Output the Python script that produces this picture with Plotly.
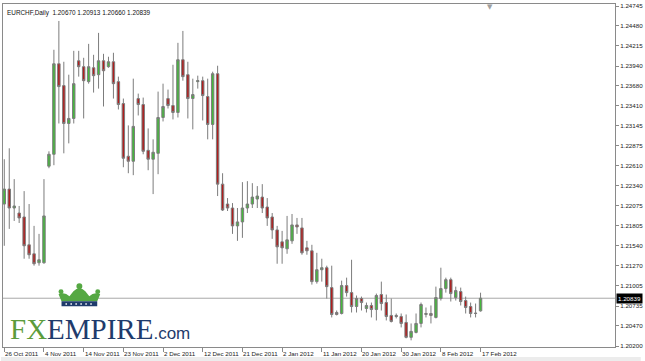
import pandas as pd
import plotly.graph_objects as go

# ---- data -------------------------------------------------------------
# bar dates (MT4 daily bars incl. Sunday bars, no Saturdays, no 25 Dec / 1 Jan)
all_days = pd.date_range("2011-10-26", "2012-02-17", freq="D")
dates = [d.strftime("%Y-%m-%d") for d in all_days
         if d.dayofweek != 5 and d.strftime("%m-%d") not in ("12-25", "01-01")]

opens = [1.22098, 1.22298, 1.22045, 1.21978, 1.21925, 1.21553, 1.21433, 1.21313, 1.21313, 1.22604,
         1.22763, 1.23973, 1.23681, 1.23175, 1.23242, 1.24013, 1.23934, 1.23734, 1.23920, 1.23827,
         1.24013, 1.23934, 1.24000, 1.23734, 1.23441, 1.22737, 1.22670, 1.23508, 1.23428, 1.22816,
         1.22697, 1.22776, 1.23255, 1.23508, 1.23415, 1.23322, 1.24027, 1.23827, 1.23508, 1.23734,
         1.23747, 1.23535, 1.23162, 1.23840, 1.22364, 1.22098, 1.22045, 1.21806, 1.21859, 1.22045,
         1.22098, 1.22165, 1.22191, 1.22058, 1.21925, 1.21752, 1.21593, 1.21500, 1.21606, 1.21819,
         1.21779, 1.21513, 1.21473, 1.21061, 1.21220, 1.21247, 1.20981, 1.20648, 1.20635, 1.21008,
         1.20914, 1.20728, 1.20835, 1.20702, 1.20742, 1.20688, 1.20888, 1.20781, 1.20609, 1.20609,
         1.20595, 1.20515, 1.20316, 1.20382, 1.20502, 1.20622, 1.20635, 1.20582, 1.20835, 1.20968,
         1.21087, 1.20848, 1.20928, 1.20808, 1.20728, 1.20640, 1.20670]
highs = [1.22697, 1.22843, 1.22431, 1.22072, 1.22271, 1.22098, 1.21806, 1.21699, 1.22431, 1.22803,
         1.24160, 1.24545, 1.24000, 1.23827, 1.24146, 1.24146, 1.24053, 1.24239, 1.24093, 1.24386,
         1.24106, 1.24067, 1.24120, 1.23801, 1.23508, 1.23149, 1.23774, 1.23574, 1.23521, 1.23109,
         1.22963, 1.23601, 1.23707, 1.23628, 1.23960, 1.24253, 1.24412, 1.24000, 1.23774, 1.23814,
         1.23801, 1.23774, 1.23867, 1.23947, 1.22510, 1.22178, 1.22111, 1.22045, 1.22391, 1.22404,
         1.22377, 1.22338, 1.22364, 1.22178, 1.21978, 1.21806, 1.21739, 1.21939, 1.21965, 1.21912,
         1.21912, 1.21606, 1.21553, 1.21446, 1.21367, 1.21274, 1.21274, 1.20675, 1.21074, 1.21114,
         1.21353, 1.20875, 1.20861, 1.20781, 1.20781, 1.20901, 1.21061, 1.20888, 1.20835, 1.20635,
         1.20635, 1.20622, 1.20502, 1.20635, 1.20781, 1.20715, 1.20742, 1.20994, 1.21247, 1.21114,
         1.21114, 1.20994, 1.20981, 1.20861, 1.20781, 1.20768, 1.20913]
lows = [1.21540, 1.21766, 1.21872, 1.21845, 1.21367, 1.21367, 1.21274, 1.21274, 1.21300, 1.22577,
        1.22617, 1.23175, 1.22776, 1.22909, 1.23175, 1.23801, 1.23242, 1.23707, 1.23588, 1.23641,
        1.23402, 1.23920, 1.23508, 1.23362, 1.22590, 1.22510, 1.22484, 1.23282, 1.22763, 1.22550,
        1.22231, 1.22497, 1.23202, 1.23375, 1.23229, 1.23255, 1.23747, 1.23242, 1.23096, 1.23641,
        1.23215, 1.22963, 1.22963, 1.22205, 1.22005, 1.22005, 1.21699, 1.21606, 1.21646, 1.21978,
        1.22045, 1.22045, 1.21978, 1.21806, 1.21633, 1.21300, 1.21300, 1.21433, 1.21566, 1.21699,
        1.21420, 1.21420, 1.21021, 1.21034, 1.21061, 1.20835, 1.20582, 1.20609, 1.20622, 1.20861,
        1.20648, 1.20648, 1.20675, 1.20648, 1.20582, 1.20542, 1.20675, 1.20542, 1.20515, 1.20569,
        1.20449, 1.20303, 1.20276, 1.20369, 1.20449, 1.20582, 1.20502, 1.20569, 1.20808, 1.20914,
        1.20795, 1.20808, 1.20742, 1.20635, 1.20582, 1.20582, 1.20660]
closes = [1.22298, 1.22045, 1.22072, 1.21912, 1.21540, 1.21420, 1.21300, 1.21353, 1.21939, 1.22763,
          1.23973, 1.23668, 1.23175, 1.23242, 1.23707, 1.23934, 1.23747, 1.23934, 1.23814, 1.24013,
          1.23880, 1.24000, 1.23707, 1.23428, 1.22710, 1.22670, 1.23136, 1.23428, 1.22803, 1.22697,
          1.22790, 1.23255, 1.23402, 1.23415, 1.23322, 1.24027, 1.23801, 1.23508, 1.23561, 1.23747,
          1.23548, 1.23162, 1.23840, 1.22364, 1.22018, 1.22045, 1.21806, 1.21859, 1.22045, 1.22098,
          1.22191, 1.22205, 1.22045, 1.21912, 1.21752, 1.21526, 1.21513, 1.21619, 1.21819, 1.21792,
          1.21446, 1.21473, 1.21061, 1.21220, 1.21247, 1.20994, 1.20622, 1.20622, 1.21008, 1.20914,
          1.20728, 1.20835, 1.20781, 1.20742, 1.20688, 1.20875, 1.20768, 1.20595, 1.20529, 1.20595,
          1.20502, 1.20316, 1.20396, 1.20502, 1.20755, 1.20635, 1.20609, 1.20848, 1.20968, 1.21087,
          1.20901, 1.20941, 1.20795, 1.20715, 1.20635, 1.20636, 1.20839]

x_tick_dates = ["2011-10-26", "2011-11-04", "2011-11-14", "2011-11-23", "2011-12-02",
                "2011-12-12", "2011-12-21", "2012-01-02", "2012-01-11", "2012-01-20",
                "2012-01-30", "2012-02-08", "2012-02-17"]
x_tick_text = ["26 Oct 2011", "4 Nov 2011", "14 Nov 2011", "23 Nov 2011", "2 Dec 2011",
               "12 Dec 2011", "21 Dec 2011", "2 Jan 2012", "11 Jan 2012", "20 Jan 2012",
               "30 Jan 2012", "8 Feb 2012", "17 Feb 2012"]
y_tick_text = ["1.24745", "1.24480", "1.24215", "1.23940", "1.23680", "1.23410", "1.23145",
               "1.22875", "1.22610", "1.22340", "1.22075", "1.21805", "1.21540", "1.21270",
               "1.21005", "1.20735", "1.20470", "1.20200"]
y_tick_vals = [float(t) for t in y_tick_text]

title_text = "EURCHF,Daily  1.20670 1.20913 1.20660 1.20839"
last_price = 1.20839

# ---- style ------------------------------------------------------------
W, H = 645, 361
ML, MR, MT, MB = 2, 26, 2, 14
PW, PH = W - ML - MR, H - MT - MB
GREEN = "#45b83c"
RED = "#b01e1e"
WICK = "#7c7c7c"
AXIS = "#8a8a8a"
FONT = "Liberation Sans"


def px(x):
    return (x - ML) / PW


def py(y):
    return (H - MB - y) / PH


fig = go.Figure(go.Candlestick(
    x=dates, open=opens, high=highs, low=lows, close=closes,
    increasing=dict(fillcolor=GREEN, line=dict(color=WICK, width=1)),
    decreasing=dict(fillcolor=RED, line=dict(color=WICK, width=1)),
    whiskerwidth=0, hoverinfo="skip", showlegend=False,
))

annotations = []
for d, t in zip(x_tick_dates, x_tick_text):
    annotations.append(dict(x=d, xref="x", y=0, yref="paper", yanchor="top", xanchor="left",
                            xshift=-1, yshift=-1, text=t, showarrow=False,
                            font=dict(family=FONT, size=6.2, color="#222")))

annotations.append(dict(x=0, xref="paper", y=1, yref="paper", xanchor="left", yanchor="top",
                        xshift=2, yshift=-3, text=title_text, showarrow=False,
                        font=dict(family=FONT, size=6.4, color="#111")))

annotations.append(dict(x=1, xref="paper", y=last_price, yref="y", xanchor="left", yanchor="middle",
                        xshift=1, text=last_price and f"{last_price:.5f}", showarrow=False,
                        bgcolor="#000000", borderpad=1,
                        font=dict(family=FONT, size=6.2, color="#ffffff")))

# chart-shift marker
annotations.append(dict(x=px(493), xref="paper", y=1, yref="paper", yanchor="top", xanchor="center",
                        yshift=3, text="▼", showarrow=False,
                        font=dict(family="DejaVu Sans", size=7, color="#a0a0a0")))

# FXEMPIRE logo
annotations.append(dict(
    x=px(7), xref="paper", y=py(329), yref="paper", xanchor="left", yanchor="middle",
    text=("<span style='color:#5c9c3c'>FX</span><span style='color:#1f3b6c'>EMPIRE</span>"
          "<span style='font-family:Liberation Sans;font-size:17px;color:#1f3b6c'>.com</span>"),
    showarrow=False, font=dict(family="Liberation Serif", size=29, color="#1f3b6c")))

shapes = [
    dict(type="line", xref="paper", x0=0, x1=1, yref="y", y0=last_price, y1=last_price,
         line=dict(color="#a8a8a8", width=1), layer="below"),
    # bottom window strip
    dict(type="rect", xref="paper", x0=px(0), x1=px(W), yref="paper", y0=py(H), y1=py(357),
         fillcolor="#ececec", line=dict(width=0), layer="below"),
    # crown body
    dict(type="path", xref="paper", yref="paper",
         path=(f"M {px(61)},{py(301)} L {px(58)},{py(294)} Q {px(64)},{py(291)} {px(69)},{py(296)} "
               f"L {px(73)},{py(291)} Q {px(79)},{py(285)} {px(85)},{py(291)} L {px(89)},{py(296)} "
               f"Q {px(94)},{py(291)} {px(100)},{py(294)} L {px(97)},{py(301)} Z"),
         fillcolor="#55a843", line=dict(width=0)),
    dict(type="circle", xref="paper", yref="paper", x0=px(58), x1=px(63), y0=py(294), y1=py(289),
         fillcolor="#55a843", line=dict(width=0)),
    dict(type="circle", xref="paper", yref="paper", x0=px(76), x1=px(82), y0=py(289), y1=py(283),
         fillcolor="#55a843", line=dict(width=0)),
    dict(type="circle", xref="paper", yref="paper", x0=px(95), x1=px(100), y0=py(294), y1=py(289),
         fillcolor="#55a843", line=dict(width=0)),
    # crown band
    dict(type="rect", xref="paper", yref="paper", x0=px(61), x1=px(97), y0=py(306), y1=py(301),
         fillcolor="#1f3b6c", line=dict(width=0)),
]
for bx in range(65, 95, 5):
    shapes.append(dict(type="rect", xref="paper", yref="paper", x0=px(bx), x1=px(bx + 1.5),
                       y0=py(304.5), y1=py(303), fillcolor="#ffffff", line=dict(width=0)))

fig.update_layout(
    width=W, height=H,
    margin=dict(l=ML, r=MR, t=MT, b=MB, pad=0),
    paper_bgcolor="#ffffff", plot_bgcolor="#ffffff",
    showlegend=False,
    annotations=annotations, shapes=shapes,
    xaxis=dict(type="category", range=[-0.26, 123.1], rangeslider=dict(visible=False),
               showgrid=False, zeroline=False, showline=True, linecolor=AXIS, linewidth=1,
               mirror=True, ticks="outside", ticklen=4, tickcolor=AXIS,
               tickvals=x_tick_dates, showticklabels=False, fixedrange=True),
    yaxis=dict(side="right", range=[1.20187, 1.24772], showgrid=False, zeroline=False,
               showline=True, linecolor=AXIS, linewidth=1, mirror=True,
               ticks="outside", ticklen=3, tickcolor=AXIS,
               tickvals=y_tick_vals, ticktext=y_tick_text,
               tickfont=dict(family=FONT, size=6.2, color="#222"), fixedrange=True),
)

fig.write_html("out.html")
